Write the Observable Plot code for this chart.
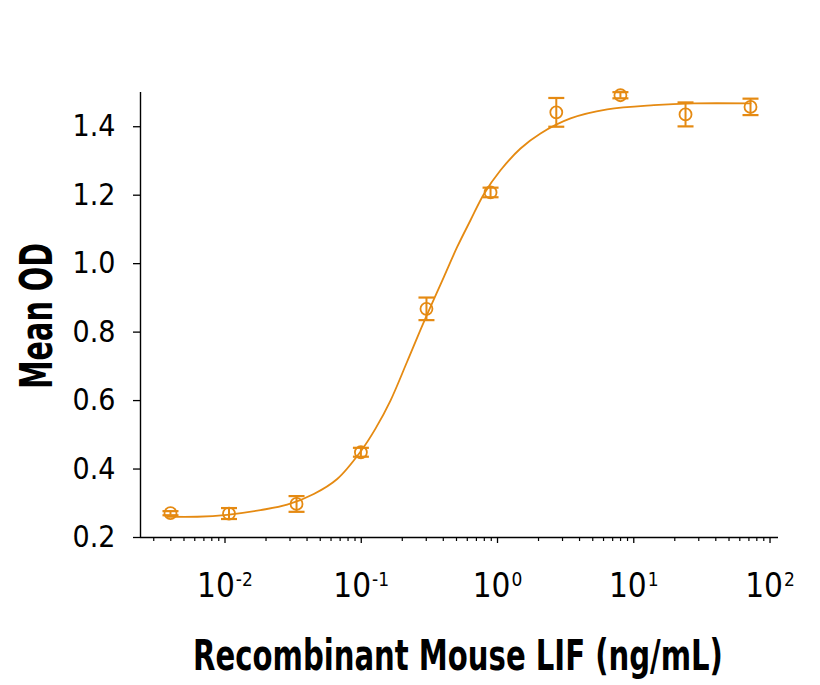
<!DOCTYPE html>
<html>
<head>
<meta charset="utf-8">
<script src="https://cdn.jsdelivr.net/npm/d3@7"></script>
<script src="https://cdn.jsdelivr.net/npm/@observablehq/plot@0.6"></script>
<style>
  html, body { margin: 0; padding: 0; background: #fff; }
  #chart { width: 820px; height: 685px; }
  svg { font-family: "DejaVu Sans", "Liberation Sans", sans-serif; font-stretch: condensed; }
</style>
</head>
<body>
<div id="chart"></div>
<script>
// Measured points (ng/mL) with mean OD and error (±)
const conc = [0.00398, 0.0107, 0.0335, 0.0994, 0.301, 0.889, 2.70, 7.98, 23.98, 71.9];
const meanOD = [0.271, 0.270, 0.298, 0.449, 0.868, 1.208, 1.442, 1.492, 1.436, 1.458];
const errOD = [0.006, 0.016, 0.023, 0.013, 0.033, 0.014, 0.042, 0.009, 0.035, 0.024];

// Fitted curve
const curveX = [0.003765, 0.006252, 0.01038, 0.01822, 0.0286, 0.04484, 0.0666, 0.09874, 0.1272, 0.1639,
                0.2174, 0.2877, 0.4036, 0.506, 0.6335, 0.7933, 1.052, 1.475, 2.068,
                3.435, 6.385, 14.04, 27.59, 71.94];
const curveY = [0.2606, 0.2606, 0.2664, 0.2801, 0.2958, 0.3271, 0.371, 0.4508, 0.5181, 0.6001,
                0.7142, 0.8292, 0.9609, 1.0487, 1.1268, 1.2029, 1.2729, 1.3364, 1.3803,
                1.4242, 1.4506, 1.4631, 1.4681, 1.4681];

const yTicks = [0.2, 0.4, 0.6, 0.8, 1.0, 1.2, 1.4];
const xMajor = [0.01, 0.1, 1, 10, 100];
const xMinor = [0.003,0.004,0.005,0.006,0.007,0.008,0.009,
                0.02,0.03,0.04,0.05,0.06,0.07,0.08,0.09,
                0.2,0.3,0.4,0.5,0.6,0.7,0.8,0.9,
                2,3,4,5,6,7,8,9,
                20,30,40,50,60,70,80,90];
const xTitle = "Recombinant Mouse LIF (ng/mL)";
const yTitle = "Mean OD";

const color = "#E58A12";

const points = conc.map((c, i) => ({x: c, y: meanOD[i], lo: meanOD[i] - errOD[i], hi: meanOD[i] + errOD[i]}));
const curve = curveX.map((c, i) => ({x: c, y: curveY[i]}));

const capSymbol = { draw(ctx) { ctx.moveTo(-8, 0); ctx.lineTo(8, 0); } };

const plot = Plot.plot({
  width: 820,
  height: 685,
  marginLeft: 140,
  marginRight: 42,
  marginTop: 92,
  marginBottom: 148,
  x: { type: "log", domain: [0.002398, 115.4] },
  y: { domain: [0.2, 1.5] },
  marks: [
    Plot.axisY(yTicks, { tickSize: 7, tickPadding: 18, fontSize: 30, tickFormat: d3.format(".1f"), label: null, strokeWidth: 1.3, className: "yticks" }),
    Plot.axisX(xMinor, { tickSize: 4, tickFormat: () => "", label: null, strokeWidth: 1.2 }),
    Plot.axisX(xMajor, { tickSize: 6, tickPadding: 30, fontSize: 33, tickFormat: d => String(Math.round(Math.log10(d))), label: null, strokeWidth: 1.3, className: "xticks" }),
    Plot.ruleY([0.2], { stroke: "black", strokeWidth: 1.4 }),
    Plot.ruleX([0.002398], { stroke: "black", strokeWidth: 1.4 }),
    Plot.line(curve, { x: "x", y: "y", stroke: color, strokeWidth: 1.8, curve: "catmull-rom" }),
    Plot.ruleX(points, { x: "x", y1: "lo", y2: "hi", stroke: color, strokeWidth: 2 }),
    Plot.dot(points, { x: "x", y: "lo", symbol: capSymbol, stroke: color, strokeWidth: 2.2, fill: "none" }),
    Plot.dot(points, { x: "x", y: "hi", symbol: capSymbol, stroke: color, strokeWidth: 2.2, fill: "none" }),
    Plot.dot(points, { x: "x", y: "y", r: 6, stroke: color, strokeWidth: 1.8, fill: "none" }),
    Plot.text([xTitle], { frameAnchor: "bottom", dy: 120, textAnchor: "middle", fontSize: 43, fontWeight: "bold", fill: "black", className: "xtitle" }),
    Plot.text([yTitle], { frameAnchor: "left", dx: -105, textAnchor: "middle", rotate: -90, fontSize: 44, fontWeight: "bold", fill: "black", className: "ytitle" })
  ]
});

document.getElementById("chart").appendChild(plot);

const svg = d3.select(plot);

// superscript exponents on the x tick labels: 10^k
svg.selectAll(".xticks text").each(function () {
  const t = d3.select(this);
  const exp = t.text();
  if (exp === "") return;
  t.text("");
  t.append("tspan").text("10");
  t.append("tspan").attr("dx", "1").attr("dy", "-0.55em").attr("font-size", "19").text(exp);
});

// squeeze a text along its own direction to a target width, then centre its box on (cx, cy)
function squeezeAndPlace(el, w, cx, cy) {
  const n = el.getComputedTextLength();
  const x = +el.getAttribute("x") || 0;
  const y = +el.getAttribute("y") || 0;
  el.removeAttribute("x");
  el.removeAttribute("y");
  const t = el.getAttribute("transform") || "";
  const s = n > w ? w / n : 1;
  el.setAttribute("transform", `${t} translate(${x},${y}) scale(${s},1)`);
  const svgBox = plot.getBoundingClientRect();
  const b = el.getBoundingClientRect();
  const dx = cx - (b.left - svgBox.left + b.width / 2);
  const dy = cy - (b.top - svgBox.top + b.height / 2);
  el.setAttribute("transform", `translate(${dx},${dy}) ${el.getAttribute("transform")}`);
}
svg.selectAll(".xtitle text").each(function () { squeezeAndPlace(this, 530, 458, 655); });
svg.selectAll(".ytitle text").each(function () { squeezeAndPlace(this, 146, 37, 316); });
</script>
</body>
</html>
